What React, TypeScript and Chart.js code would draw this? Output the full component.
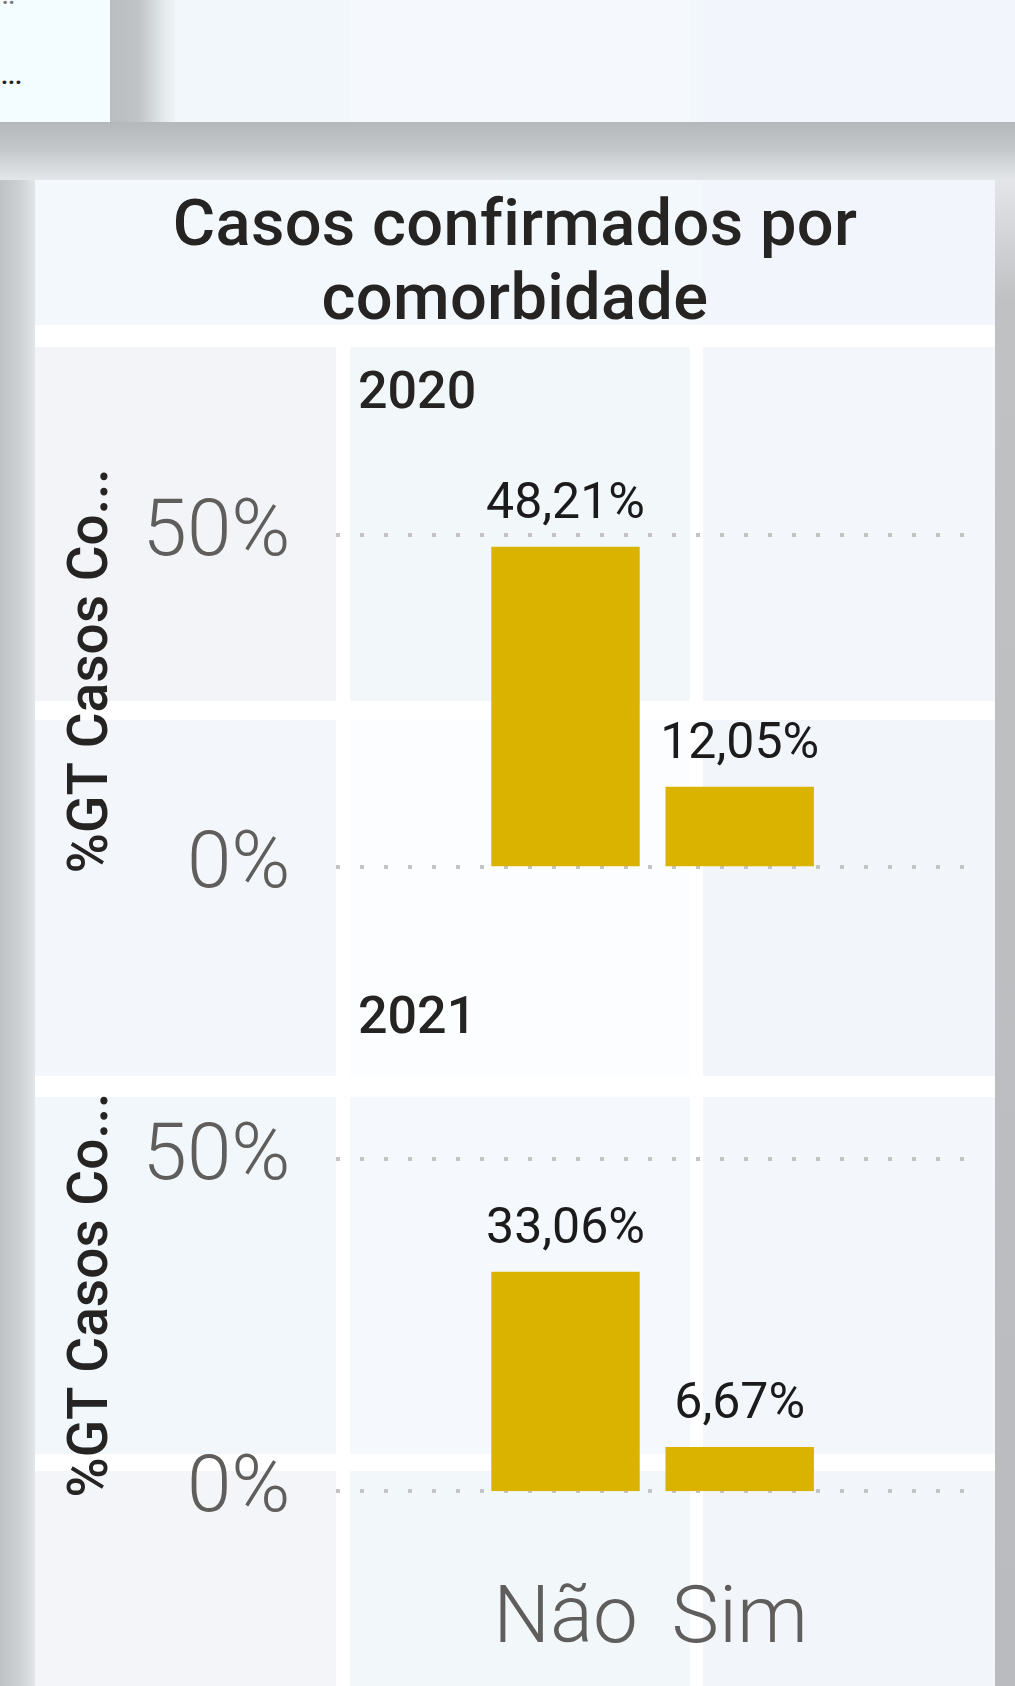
import React, { useEffect, useRef } from "react";
import { Chart, registerables } from "chart.js";

Chart.register(...registerables);

// ---- data ----
const categories = ["Não", "Sim"];
const years = ["2020", "2021"];
const values2020 = [48.21, 12.05];
const values2021 = [33.06, 6.67];
const yTickValues = [0, 50];
const yAxisTitle = "%GT Casos Co...";
const titleLines = ["Casos confirmados por", "comorbidade"];

const FONT = "Roboto, 'Noto Sans', sans-serif";
const BAR = "#D9B300";
const TEXT = "#252423";
const GRAY = "#605E5C";

const fmt = (v: number) => v.toFixed(2).replace(".", ",") + "%";

const dotGrid = {
  id: "dotGrid",
  beforeDatasetsDraw(chart: any, _args: any, opts: any) {
    const y = chart.scales.y;
    const ctx = chart.ctx;
    ctx.save();
    ctx.strokeStyle = opts.color;
    ctx.lineWidth = 4;
    ctx.setLineDash([4, 20]);
    y.ticks.forEach((t: any) => {
      const py = Math.round(y.getPixelForValue(t.value));
      ctx.beginPath();
      ctx.moveTo(opts.left, py);
      ctx.lineTo(opts.right, py);
      ctx.stroke();
    });
    ctx.restore();
  },
};

const dataLabels = {
  id: "dataLabels",
  afterDatasetsDraw(chart: any) {
    const ctx = chart.ctx;
    const ds = chart.data.datasets[0];
    const meta = chart.getDatasetMeta(0);
    ctx.save();
    ctx.font = `400 50px ${FONT}`;
    ctx.fillStyle = "#1b1b1b";
    ctx.textAlign = "center";
    ctx.textBaseline = "alphabetic";
    meta.data.forEach((bar: any, i: number) => {
      ctx.fillText(fmt(ds.data[i] as number), bar.x, bar.y - 29);
    });
    ctx.restore();
  },
};

function SmallChart(props: { values: number[]; top: number; height: number; padTop: number; padBottom: number; showX: boolean }) {
  const ref = useRef<HTMLCanvasElement | null>(null);
  useEffect(() => {
    if (!ref.current) return;
    const chart = new Chart(ref.current, {
      type: "bar",
      data: {
        labels: categories,
        datasets: [
          {
            data: props.values,
            backgroundColor: BAR,
            barPercentage: 0.852,
            categoryPercentage: 1,
          },
        ],
      },
      options: {
        responsive: false,
        animation: false,
        devicePixelRatio: 1,
        layout: { padding: { top: props.padTop, bottom: props.padBottom, left: 0, right: 188.2 } },
        plugins: {
          legend: { display: false },
          tooltip: { enabled: false },
          title: { display: false },
          dotGrid: { left: 336, right: 966, color: "#C4C4C4" },
        } as any,
        scales: {
          x: {
            display: props.showX,
            grid: { display: false, drawTicks: false },
            border: { display: false },
            ticks: {
              font: { family: FONT, size: 80, weight: "300" },
              color: GRAY,
              padding: 83,
              maxRotation: 0,
              autoSkip: false,
            },
            afterFit: (s: any) => {
              s.height = props.showX ? 194.7 : 0;
              s.paddingLeft = 0;
              s.paddingRight = 0;
            },
          },
          y: {
            min: 0,
            max: 59,
            afterBuildTicks: (s: any) => {
              s.ticks = yTickValues.map((v) => ({ value: v }));
            },
            ticks: {
              stepSize: 50,
              includeBounds: false,
              callback: (v: any) => v + "%",
              font: { family: FONT, size: 80, weight: "300" },
              color: GRAY,
              padding: 188,
            },
            grid: { display: false, drawTicks: false },
            border: { display: false },
            title: {
              display: true,
              text: yAxisTitle,
              font: { family: FONT, size: 55, weight: "500" },
              color: TEXT,
              padding: { top: 60.5, bottom: 0 },
            },
            afterFit: (s: any) => {
              s.width = 478.4;
              s.paddingTop = 0;
              s.paddingBottom = 0;
            },
          },
        } as any,
      },
      plugins: [dotGrid, dataLabels],
    });
    return () => chart.destroy();
  }, []);
  return (
    <canvas
      ref={ref}
      width={1015}
      height={props.height}
      style={{ position: "absolute", left: 0, top: props.top, width: 1015, height: props.height }}
    />
  );
}

const box = (left: number, top: number, width: number, height: number, background: string): React.CSSProperties => ({
  position: "absolute",
  left,
  top,
  width,
  height,
  background,
});

export default function App() {
  const cols: [number, number][] = [
    [35, 336],
    [350, 690],
    [703, 995],
  ];
  const rows: [number, number][] = [
    [347, 701],
    [720, 1076],
    [1097, 1454],
    [1471, 1686],
  ];
  const tileColors = [
    ["#F3F4F8", "#F2F7FA", "#F3F6FA"],
    ["#F3F6FA", "#FCFDFF", "#F2F5FA"],
    ["#F1F7FA", "#F5F9FD", "#F3F6FB"],
    ["#F3F5F9", "#F2F7FA", "#F2F6FA"],
  ];
  return (
    <div
      style={{
        position: "absolute",
        left: 0,
        top: 0,
        width: 1015,
        height: 1686,
        overflow: "hidden",
        background: "#BBBEC0",
        fontFamily: FONT,
      }}
    >
      {/* top row panels */}
      <div style={box(0, 0, 110, 122, "#F3FCFF")} />
      <div style={{ ...box(110, 0, 65, 122, "linear-gradient(to right, #B9BDBF 0%, #C0C4C6 45%, #E6EBED 85%, #EEF3F5 100%)") }} />
      <div style={box(175, 0, 840, 122, "#F1F7FB")} />
      <div style={box(350, 0, 340, 122, "#F5F8FD")} />
      <div style={box(703, 0, 312, 122, "#F2F6FC")} />
      <div style={{ position: "absolute", left: 2, top: -16, fontSize: 22, fontWeight: 700, color: "#777" }}>..</div>
      <div style={{ position: "absolute", left: 1, top: 62, fontSize: 24, fontWeight: 700, color: TEXT }}>...</div>

      {/* shadows */}
      <div style={box(0, 122, 1015, 58, "linear-gradient(to bottom, #B5B8BA 0%, #C4C7C9 45%, #E4E7EA 100%)")} />
      <div style={box(0, 180, 35, 1506, "linear-gradient(to right, #BEC2C4 0%, #CDD0D2 55%, #E3E6E8 100%)")} />
      <div style={box(995, 180, 20, 1506, "linear-gradient(to bottom, #E3E5E9 0%, #BFC1C3 8%, #B9BBBE 100%)")} />

      {/* visual panel */}
      <div style={box(35, 180, 960, 1506, "#FFFFFF")} />
      <div style={box(35, 180, 960, 145, "#F2F8FB")} />
      <div style={box(703, 180, 292, 145, "#F2F6FC")} />
      {rows.map((r, ri) =>
        cols.map((c, ci) => (
          <div key={`t${ri}-${ci}`} style={box(c[0], r[0], c[1] - c[0], r[1] - r[0], tileColors[ri][ci])} />
        ))
      )}

      {/* title */}
      <div
        style={{
          position: "absolute",
          left: 35,
          top: 186,
          width: 960,
          textAlign: "center",
          fontSize: 65,
          lineHeight: "74px",
          fontWeight: 500,
          color: TEXT,
          letterSpacing: 0.3,
        }}
      >
        {titleLines[0]}
        <br />
        {titleLines[1]}
      </div>

      {/* year labels */}
      <div style={{ position: "absolute", left: 358, top: 365, fontSize: 52, lineHeight: "52px", fontWeight: 500, color: TEXT }}>
        {years[0]}
      </div>
      <div style={{ position: "absolute", left: 358, top: 990, fontSize: 52, lineHeight: "52px", fontWeight: 500, color: TEXT }}>
        {years[1]}
      </div>

      <SmallChart values={values2020} top={420} height={520} padTop={55.3} padBottom={73.4} showX={false} />
      <SmallChart values={values2021} top={1040} height={646} padTop={59.3} padBottom={0} showX={true} />
    </div>
  );
}
